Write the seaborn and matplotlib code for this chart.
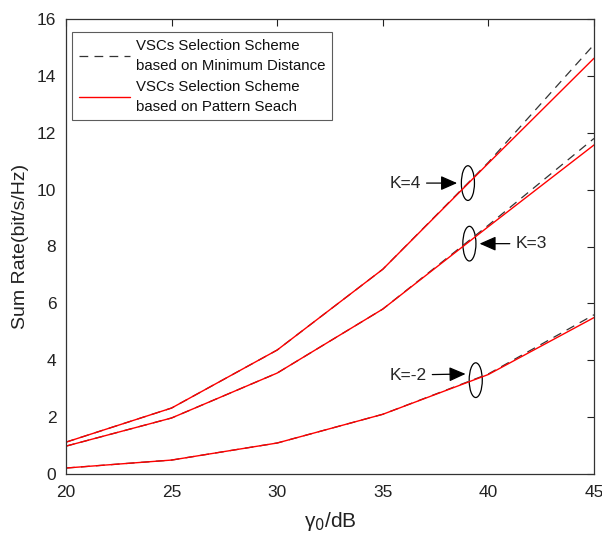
import numpy as np
import pandas as pd
import matplotlib
matplotlib.use("Agg")
import matplotlib.pyplot as plt
import seaborn as sns
from matplotlib.patches import Ellipse
from matplotlib.lines import Line2D

gamma = [20, 25, 30, 35, 40, 45]
k4_md = [1.12, 2.32, 4.36, 7.2, 10.96, 15.1]
k4_ps = [1.12, 2.32, 4.36, 7.2, 10.93, 14.62]
k3_md = [0.98, 1.97, 3.55, 5.8, 8.75, 11.8]
k3_ps = [0.98, 1.97, 3.55, 5.8, 8.7, 11.57]
k2_md = [0.21, 0.49, 1.09, 2.1, 3.52, 5.6]
k2_ps = [0.21, 0.49, 1.09, 2.1, 3.5, 5.5]

lab_md = "VSCs Selection Scheme\nbased on Minimum Distance"
lab_ps = "VSCs Selection Scheme\nbased on Pattern Seach"

rows = []
for k, md, ps in [("K=4", k4_md, k4_ps), ("K=3", k3_md, k3_ps), ("K=-2", k2_md, k2_ps)]:
    for g, v in zip(gamma, md):
        rows.append(dict(gamma=g, rate=v, K=k, scheme=lab_md))
    for g, v in zip(gamma, ps):
        rows.append(dict(gamma=g, rate=v, K=k, scheme=lab_ps))
df = pd.DataFrame(rows)

sns.set_style("white")
plt.rcParams['font.family'] = ['Liberation Sans', 'DejaVu Sans']

fig = plt.figure(figsize=(6.02, 5.34), dpi=100)
ax = fig.add_axes([66/602, 1-474/534, 528/602, 455/534])

for scheme, color, ls, lw in [(lab_md, "#333333", (0, (7, 5)), 0.9), (lab_ps, "#ff0000", "-", 1.0)]:
    sub = df[df.scheme == scheme]
    sns.lineplot(data=sub, x="gamma", y="rate", units="K", estimator=None,
                 color=color, linestyle=ls, linewidth=lw, ax=ax, legend=False)

handles = [Line2D([], [], color="#333333", linestyle=(0, (7, 5)), linewidth=0.9),
           Line2D([], [], color="#ff0000", linewidth=1.0)]
leg = ax.legend(handles, [lab_md, lab_ps], loc="upper left",
                bbox_to_anchor=(72/602, 1-32/534), bbox_transform=fig.transFigure,
                fontsize=10.8, frameon=True, fancybox=False, edgecolor="#333333",
                borderpad=0.45, handlelength=3.4, handletextpad=0.4,
                labelspacing=0.45, borderaxespad=0.0)
for t in leg.get_texts():
    t.set_linespacing(1.55)
    t.set_color("#111111")
leg.get_frame().set_linewidth(0.8)

ax.set_xlim(20, 45)
ax.set_ylim(0, 16)
ax.set_xticks([20, 25, 30, 35, 40, 45])
ax.set_yticks(np.arange(0, 17, 2))
ax.tick_params(direction="in", top=True, right=True, length=5, width=0.8,
               labelsize=12.5, colors="#222222", pad=8)
ax.tick_params(axis="y", pad=7)
for s in ax.spines.values():
    s.set_visible(True)
    s.set_color("#333333")
    s.set_linewidth(0.9)
ax.set_xlabel("γ$_0$/dB", fontsize=15, color="#222222", labelpad=7)
ax.set_ylabel("Sum Rate(bit/s/Hz)", fontsize=14, color="#222222", labelpad=6)

# annotations
for (cx, cy) in [(39.03, 10.23), (39.1, 8.1), (39.4, 3.3)]:
    ax.add_patch(Ellipse((cx, cy), 0.62, 1.22, fill=False, edgecolor="black", linewidth=0.9))

ap = dict(arrowstyle="-|>,head_length=0.5,head_width=0.22", color="black", lw=0.9, mutation_scale=20)
ax.annotate("K=4", xy=(38.65, 10.23), xytext=(35.3, 10.23), fontsize=12.5,
            va="center", ha="left", arrowprops=ap)
ax.annotate("K=3", xy=(39.45, 8.1), xytext=(41.3, 8.1), fontsize=12.5,
            va="center", ha="left", arrowprops=ap)
ax.annotate("K=-2", xy=(39.05, 3.52), xytext=(35.3, 3.48), fontsize=12.5,
            va="center", ha="left", arrowprops=ap)

fig.savefig("out.png", dpi=100, facecolor="white")
